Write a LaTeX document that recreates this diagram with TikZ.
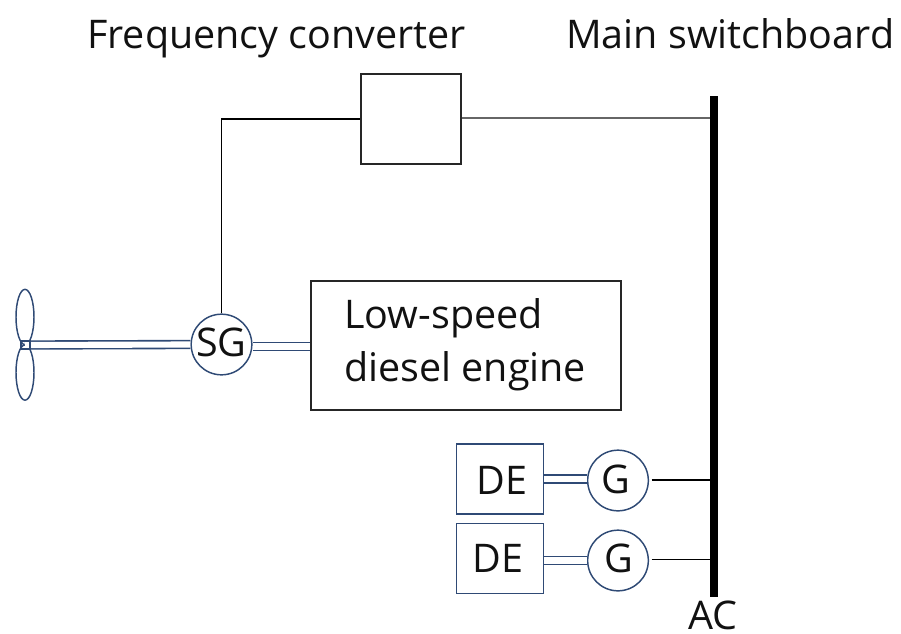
\documentclass[tikz,border=0pt]{standalone}
\usepackage{fontspec}
\usetikzlibrary{shapes.geometric}
\setmainfont{Open Sans}
\definecolor{navy}{HTML}{2F4A75}
\definecolor{soft}{HTML}{111111}
\tikzset{
  every node/.style={font=\fontsize{29.6pt}{34pt}\selectfont,text=soft},
  lab/.style={inner sep=0pt,anchor=base west},
  blackbox/.style={draw=black!85,line width=1.1pt,inner sep=0pt},
  bluebox/.style={draw=navy,line width=1.1pt,inner sep=0pt},
  gen/.style={circle,draw=navy,line width=1.1pt,fill=white,minimum size=45.5pt,inner sep=0pt},
  wire/.style={draw=black,line width=1.1pt},
  shaft/.style={draw=navy,double=white,double distance=4.6pt,line width=1.2pt},
  blade/.style={ellipse,draw=navy,line width=1.1pt,minimum width=13.5pt,minimum height=41.5pt,inner sep=0pt},
  bus/.style={draw=black,line width=5.4pt}
}
\begin{document}
\begin{tikzpicture}[x=0.75pt,y=-0.75pt]
\useasboundingbox (0,0) rectangle (901,633);
% boxes
\node[blackbox,minimum width=75pt,minimum height=67.5pt] (fc) at (411,119) {};
\node[blackbox,minimum width=232.5pt,minimum height=96.75pt] (eng) at (466,345.5) {};
\node[bluebox,minimum width=65.5pt,minimum height=52.5pt] (de1) at (500,479) {};
\node[bluebox,minimum width=65.5pt,minimum height=52.5pt] (de2) at (500,558.7) {};
% bus
\coordinate (bt) at (714,96);
\coordinate (bb) at (714,597);
\coordinate (b0) at (714,118);
\coordinate (b1) at (714,480);
\coordinate (b2) at (714,559.5);
% propeller
\node[blade] (up) at (25,317) {};
\node[blade] (dn) at (25,372.5) {};
\coordinate (hub) at (25,345);
% generators
\node[gen] (sg) at (221.5,344.5) {};
\node[gen] (g1) at (618,480.5) {};
\node[gen] (g2) at (618,560.5) {};
\coordinate (s1) at (sg.east |- 0,346.5);
\coordinate (gs1) at (g1.west |- 0,479);
\coordinate (gs2) at (g2.west |- 0,560.5);
% shafts
\draw[shaft] (hub) -- (sg.west);
\draw[navy,line width=.9pt] (21,341) rectangle (30,349);
\draw[shaft] (s1) -- (eng.west |- s1);
\draw[shaft] (de1.east |- gs1) -- (gs1);
\draw[shaft] (de2.east |- gs2) -- (gs2);
% wires
\draw[wire] (sg.north) -- (sg.north |- fc.west) -- (fc.west);
\draw[black!60,line width=1.1pt] (fc.east |- b0) -- (b0);
\draw[wire] ([xshift=2pt]g1.east |- b1) -- (b1);
\draw[wire] ([xshift=2pt]g2.east |- b2) -- (b2);
\draw[bus] (bt) -- (bb);
% labels
\node[lab] (t1) at (87,48) {Frequency converter};
\node[lab] (t2) at (566,48) {Main switchboard};
\node[lab] (t3) at (344,328) {Low-speed};
\node[lab] (t4) at (344,381) {diesel engine};
\node[lab] (t5) at (196,356.5) {SG};
\node[lab] (t6) at (476,494) {DE};
\node[lab] (t7) at (472,572) {DE};
\node[lab] (t8) at (601,493) {G};
\node[lab] (t9) at (604,572) {G};
\node[lab] (t10) at (688,629) {AC};
\end{tikzpicture}
\end{document}
